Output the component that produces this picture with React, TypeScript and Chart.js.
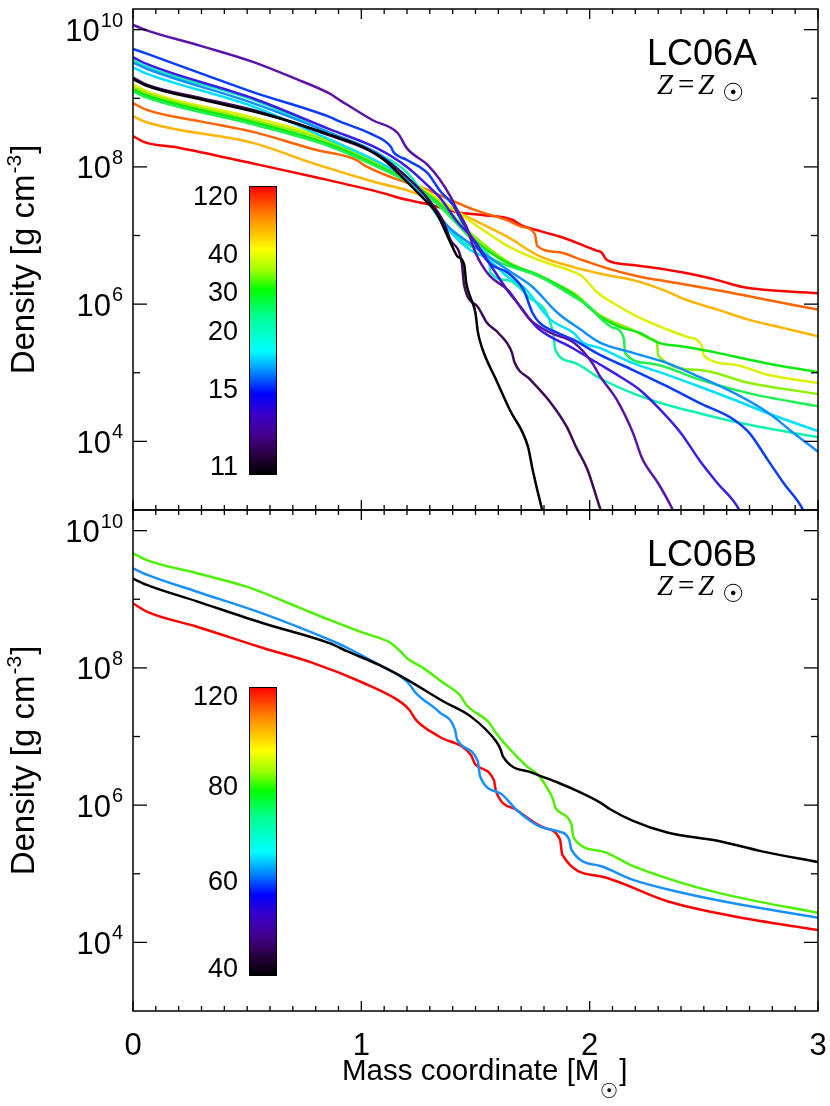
import React, { useEffect, useRef } from "react";
import { Chart, registerables } from "chart.js";

Chart.register(...registerables);

type Pt = [number, number]; // [mass coordinate, log10 density]

// ---------- axis ticks ----------
const xMajorTicks = [0, 1, 2, 3];
const yMajorExp = [4, 6, 8, 10];
const yMinorExp = [5, 7, 9];

// ---------- LC06A (top panel) ----------
const lc06aMasses = [11, 12, 13, 14, 15, 16, 17, 20, 25, 30, 35, 40, 60, 80, 120];
const lc06aColors = [
  "#000000", "#3c0c55", "#5a14a8", "#3a1ee6", "#0a3cff", "#1090ff", "#00e0ff",
  "#10f0b0", "#20f050", "#10e810", "#8cf000", "#dcf000", "#ffb400", "#ff6400", "#ff0000",
];
const a11: Pt[] = [[0,9.28],[0.06,9.18],[0.3,8.98],[0.525,8.81],[0.7,8.65],[0.86,8.47],[0.907,8.42],[1.02,8.27],[1.10,8.10],[1.17,7.88],[1.26,7.58],[1.33,7.32],[1.39,6.90],[1.42,6.70],[1.45,6.58],[1.46,6.30],[1.48,6.08],[1.50,5.87],[1.51,5.60],[1.53,5.35],[1.59,4.90],[1.65,4.46],[1.73,3.92],[1.75,3.59],[1.79,3.03],[1.81,2.8]];
const a12: Pt[] = [[0,9.30],[0.06,9.20],[0.3,9.0],[0.525,8.83],[0.86,8.46],[1.07,8.18],[1.2,7.85],[1.3,7.5],[1.36,7.2],[1.39,6.94],[1.44,6.60],[1.45,6.28],[1.51,5.96],[1.55,5.73],[1.60,5.58],[1.66,5.29],[1.67,5.16],[1.74,4.90],[1.83,4.56],[1.90,4.21],[1.94,3.92],[1.99,3.59],[2.045,3.03],[2.07,2.8]];
const a13: Pt[] = [[0,10.07],[0.06,9.99],[0.3,9.76],[0.525,9.53],[0.7,9.30],[0.86,9.07],[0.907,8.97],[1.05,8.68],[1.16,8.49],[1.2,8.27],[1.29,8.03],[1.345,7.81],[1.39,7.57],[1.42,7.37],[1.46,7.13],[1.50,6.75],[1.56,6.42],[1.64,6.21],[1.74,5.77],[1.83,5.58],[1.93,5.44],[2.01,5.15],[2.045,4.95],[2.12,4.6],[2.19,4.12],[2.23,3.75],[2.30,3.39],[2.36,3.03],[2.39,2.8]];
const a14: Pt[] = [[0,9.60],[0.06,9.50],[0.525,9.0],[0.86,8.55],[1.07,8.27],[1.2,8.0],[1.3,7.7],[1.345,7.55],[1.42,7.2],[1.49,6.95],[1.56,6.6],[1.64,6.2],[1.70,5.95],[1.74,5.77],[1.78,5.63],[1.93,5.35],[2.045,5.12],[2.13,4.95],[2.22,4.75],[2.31,4.46],[2.40,4.12],[2.48,3.73],[2.56,3.39],[2.65,3.03],[2.68,2.8]];
const a15: Pt[] = [[0,9.72],[0.06,9.65],[0.3,9.36],[0.525,9.09],[0.86,8.73],[0.907,8.66],[1.05,8.47],[1.13,8.29],[1.14,8.22],[1.2,8.10],[1.29,7.91],[1.345,7.65],[1.40,7.45],[1.43,7.27],[1.56,6.60],[1.64,6.46],[1.71,6.21],[1.75,5.87],[1.78,5.73],[1.86,5.58],[1.93,5.48],[2.045,5.26],[2.19,5.04],[2.34,4.80],[2.48,4.56],[2.63,4.32],[2.70,4.12],[2.78,3.73],[2.85,3.39],[2.93,3.03],[2.96,2.8]];
const a16: Pt[] = [[0,9.52],[0.06,9.43],[0.525,8.93],[0.86,8.5],[1.07,8.2],[1.2,7.85],[1.3,7.5],[1.345,7.25],[1.49,6.85],[1.64,6.50],[1.75,6.25],[1.86,5.87],[1.96,5.63],[2.045,5.44],[2.19,5.29],[2.34,5.14],[2.48,4.94],[2.63,4.71],[2.78,4.42],[2.89,4.13],[3.0,3.85]];
const a17: Pt[] = [[0,9.45],[0.06,9.36],[0.525,8.88],[0.86,8.4],[1.07,8.08],[1.2,7.82],[1.3,7.45],[1.345,7.23],[1.46,6.83],[1.56,6.64],[1.64,6.40],[1.71,6.25],[1.83,5.77],[1.93,5.58],[1.97,5.44],[2.045,5.36],[2.19,5.14],[2.34,4.97],[2.48,4.80],[2.63,4.61],[2.78,4.41],[3.0,4.15]];
const a20: Pt[] = [[0,9.56],[0.06,9.46],[0.525,8.98],[0.86,8.5],[1.07,8.2],[1.2,7.92],[1.345,7.27],[1.49,6.83],[1.56,6.69],[1.565,6.46],[1.64,6.35],[1.73,6.11],[1.84,5.58],[1.85,5.33],[1.93,5.15],[2.045,4.92],[2.19,4.70],[2.34,4.53],[2.48,4.41],[2.63,4.29],[2.78,4.19],[3.0,4.06]];
const a25: Pt[] = [[0,9.10],[0.06,9.01],[0.525,8.62],[0.86,8.3],[1.07,8.0],[1.2,7.78],[1.345,7.42],[1.49,6.92],[1.56,6.69],[1.78,6.40],[1.93,6.11],[2.0,5.96],[2.045,5.80],[2.10,5.66],[2.15,5.50],[2.155,5.29],[2.26,5.14],[2.48,4.90],[2.70,4.70],[3.0,4.51]];
const a30: Pt[] = [[0,9.13],[0.06,9.04],[0.525,8.65],[0.86,8.33],[1.07,8.02],[1.2,7.8],[1.345,7.45],[1.49,6.95],[1.64,6.60],[1.78,6.42],[1.93,6.14],[2.045,5.82],[2.13,5.67],[2.22,5.58],[2.30,5.44],[2.41,5.38],[2.56,5.29],[2.70,5.19],[2.85,5.09],[3.0,5.01]];
const a35: Pt[] = [[0,9.16],[0.06,9.07],[0.525,8.68],[0.86,8.37],[1.07,8.04],[1.2,7.8],[1.345,7.47],[1.49,7.0],[1.64,6.62],[1.78,6.40],[1.93,6.16],[2.045,5.84],[2.19,5.62],[2.28,5.48],[2.295,5.44],[2.30,5.25],[2.48,5.04],[2.70,4.85],[3.0,4.69]];
const a40: Pt[] = [[0,9.20],[0.06,9.10],[0.525,8.72],[0.86,8.4],[1.07,8.06],[1.2,7.82],[1.345,7.52],[1.49,7.18],[1.64,6.85],[1.78,6.64],[1.93,6.47],[1.97,6.40],[2.03,6.18],[2.10,6.02],[2.22,5.80],[2.34,5.63],[2.43,5.52],[2.49,5.40],[2.50,5.25],[2.63,5.12],[2.78,4.97],[3.0,4.85]];
const a60: Pt[] = [[0,8.74],[0.06,8.65],[0.525,8.35],[0.8,8.04],[1.07,7.77],[1.2,7.66],[1.345,7.47],[1.49,7.23],[1.64,6.98],[1.78,6.70],[1.93,6.54],[2.08,6.42],[2.19,6.35],[2.26,6.28],[2.37,6.14],[2.40,6.09],[2.56,5.92],[2.70,5.77],[2.85,5.65],[3.0,5.53]];
const a80: Pt[] = [[0,8.93],[0.06,8.83],[0.3,8.66],[0.525,8.51],[0.8,8.25],[0.98,8.10],[1.01,8.03],[1.13,7.85],[1.27,7.69],[1.39,7.52],[1.49,7.38],[1.64,7.22],[1.70,7.13],[1.76,7.02],[1.77,6.85],[1.86,6.76],[1.97,6.64],[2.10,6.50],[2.22,6.40],[2.34,6.33],[2.48,6.25],[2.63,6.16],[2.78,6.06],[3.0,5.92]];
const a120: Pt[] = [[0,8.45],[0.05,8.36],[0.2,8.28],[0.525,8.05],[0.8,7.85],[1.07,7.64],[1.2,7.52],[1.3,7.45],[1.42,7.34],[1.53,7.30],[1.66,7.23],[1.70,7.15],[1.8,7.05],[1.9,6.95],[2.03,6.78],[2.05,6.76],[2.076,6.64],[2.19,6.57],[2.41,6.46],[2.56,6.35],[2.67,6.25],[3.0,6.16]];
const lc06aProfiles = [a11, a12, a13, a14, a15, a16, a17, a20, a25, a30, a35, a40, a60, a80, a120];

// ---------- LC06B (bottom panel) ----------
const lc06bMasses = [40, 60, 80, 120];
const lc06bColors = ["#000000", "#1890ff", "#4cf000", "#ff0000"];
const b40: Pt[] = [[0,9.30],[0.06,9.21],[0.28,8.97],[0.57,8.65],[0.86,8.36],[0.94,8.24],[1.08,8.04],[1.20,7.83],[1.36,7.51],[1.48,7.29],[1.59,6.93],[1.61,6.81],[1.62,6.71],[1.75,6.47],[1.86,6.33],[1.93,6.23],[2.05,6.03],[2.09,5.94],[2.19,5.77],[2.34,5.60],[2.56,5.48],[2.75,5.33],[3.0,5.17]];
const b60: Pt[] = [[0,9.45],[0.06,9.36],[0.28,9.11],[0.57,8.79],[0.86,8.41],[0.94,8.29],[1.08,8.04],[1.20,7.80],[1.24,7.63],[1.34,7.36],[1.41,7.10],[1.42,6.95],[1.51,6.64],[1.52,6.42],[1.61,6.17],[1.68,5.93],[1.78,5.69],[1.86,5.62],[1.91,5.50],[1.92,5.35],[2.05,5.11],[2.19,4.91],[2.41,4.72],[2.63,4.57],[3.0,4.36]];
const b80: Pt[] = [[0,9.67],[0.06,9.57],[0.28,9.38],[0.50,9.18],[0.72,8.89],[0.86,8.70],[1.01,8.51],[1.13,8.36],[1.18,8.21],[1.20,8.14],[1.27,8.0],[1.36,7.78],[1.43,7.61],[1.46,7.46],[1.56,7.20],[1.59,7.05],[1.72,6.58],[1.78,6.42],[1.81,6.27],[1.84,6.08],[1.85,5.96],[1.92,5.72],[1.93,5.52],[2.05,5.33],[2.19,5.11],[2.41,4.86],[2.63,4.67],[3.0,4.43]];
const b120: Pt[] = [[0,8.94],[0.06,8.82],[0.28,8.60],[0.57,8.29],[0.79,8.07],[1.01,7.78],[1.16,7.53],[1.21,7.39],[1.24,7.24],[1.34,7.0],[1.48,6.73],[1.50,6.59],[1.58,6.37],[1.59,6.20],[1.68,5.93],[1.80,5.67],[1.87,5.50],[1.88,5.28],[2.05,4.96],[2.34,4.60],[2.63,4.38],[3.0,4.18]];
const lc06bProfiles = [b40, b60, b80, b120];

// ---------- colour bars ----------
const cmapStops: [number, string][] = [
  [0, "#000000"], [0.07, "#280040"], [0.14, "#450090"], [0.21, "#3800c8"], [0.28, "#0000ff"],
  [0.36, "#0090ff"], [0.43, "#00ffff"], [0.55, "#00ff90"], [0.64, "#00ff00"], [0.71, "#a0ff00"],
  [0.78, "#ffff00"], [0.81, "#ffe000"], [0.9, "#ff8000"], [1, "#ff0000"],
];
const cbarALabels = [11, 15, 20, 30, 40, 120];
const cbarBLabels = [40, 60, 80, 120];
const cbarBFrac = [0.03, 0.33, 0.66, 0.97];

const SANS = '"Liberation Sans", Arial, Helvetica, sans-serif';
const SERIF = '"Liberation Serif", "Times New Roman", serif';
const SYM = '"DejaVu Sans", sans-serif';

interface PanelCfg {
  title: string;
  cbarLabels: number[];
  cbarFrac: number[];
  xLabels: boolean;
}

function drawPanel(chart: any, cfg: PanelCfg) {
  const ctx: CanvasRenderingContext2D = chart.ctx;
  const a = chart.chartArea;
  const xs = chart.scales.x;
  const ys = chart.scales.y;
  ctx.save();
  ctx.strokeStyle = "#000";
  ctx.fillStyle = "#000";
  const line = (x1: number, y1: number, x2: number, y2: number) => {
    ctx.beginPath();
    ctx.moveTo(x1, y1);
    ctx.lineTo(x2, y2);
    ctx.stroke();
  };
  // frame
  ctx.lineWidth = 1.5;
  ctx.strokeRect(a.left, a.top, a.right - a.left, a.bottom - a.top);
  // x ticks (inward, top and bottom)
  ctx.lineWidth = 1.3;
  const xmin = xMajorTicks[0];
  const xmax = xMajorTicks[xMajorTicks.length - 1];
  for (let i = Math.round(xmin * 10); i <= Math.round(xmax * 10); i++) {
    const px = xs.getPixelForValue(i / 10);
    const len = i % 10 === 0 ? 10 : 5;
    line(px, a.top, px, a.top + len);
    line(px, a.bottom, px, a.bottom - len);
  }
  // y ticks (inward, left and right)
  for (const e of yMajorExp) {
    const py = ys.getPixelForValue(Math.pow(10, e));
    line(a.left, py, a.left + 14, py);
    line(a.right, py, a.right - 14, py);
  }
  for (const e of yMinorExp) {
    const py = ys.getPixelForValue(Math.pow(10, e));
    line(a.left, py, a.left + 7, py);
    line(a.right, py, a.right - 7, py);
  }
  // y tick labels 10^n
  ctx.textBaseline = "alphabetic";
  ctx.textAlign = "left";
  const labRight = a.left - 10;
  for (const e of yMajorExp) {
    const py = ys.getPixelForValue(Math.pow(10, e));
    ctx.font = `20px ${SANS}`;
    const ew = ctx.measureText(String(e)).width;
    ctx.font = `31px ${SANS}`;
    const bw = ctx.measureText("10").width;
    ctx.fillText("10", labRight - ew - bw - 1, py + 11.5);
    ctx.font = `20px ${SANS}`;
    ctx.fillText(String(e), labRight - ew, py - 3);
  }
  // y axis title
  ctx.save();
  ctx.translate(34, (a.top + a.bottom) / 2);
  ctx.rotate(-Math.PI / 2);
  const big = `33px ${SANS}`;
  const small = `21px ${SANS}`;
  ctx.font = big;
  const t1 = "Density [g cm";
  const w1 = ctx.measureText(t1).width;
  ctx.font = small;
  const w2 = ctx.measureText("-3").width;
  ctx.font = big;
  const w3 = ctx.measureText("]").width;
  const x0 = -(w1 + w2 + w3 + 2) / 2;
  ctx.fillText(t1, x0, 0);
  ctx.font = small;
  ctx.fillText("-3", x0 + w1 + 1, -13);
  ctx.font = big;
  ctx.fillText("]", x0 + w1 + w2 + 2, 0);
  ctx.restore();

  // colour bar
  const cbX = a.left + 116;
  const cbW = 28;
  const cbTop = a.top + 177;
  const cbH = 289;
  const g = ctx.createLinearGradient(0, cbTop + cbH, 0, cbTop);
  for (const [f, c] of cmapStops) g.addColorStop(f, c);
  ctx.fillStyle = g;
  ctx.fillRect(cbX, cbTop, cbW, cbH);
  ctx.lineWidth = 1;
  ctx.strokeStyle = "#000";
  ctx.strokeRect(cbX + 0.5, cbTop + 0.5, cbW - 1, cbH - 1);
  ctx.fillStyle = "#000";
  ctx.font = `27px ${SANS}`;
  ctx.textAlign = "right";
  cfg.cbarLabels.forEach((lab, i) => {
    const y = cbTop + cbH * (1 - cfg.cbarFrac[i]);
    ctx.fillText(String(lab), cbX - 11, y + 9.5);
  });

  // annotation
  const cx = a.right - 116;
  ctx.textAlign = "center";
  ctx.font = `36px ${SANS}`;
  ctx.fillText(cfg.title, cx, a.top + 56);
  ctx.textAlign = "left";
  const zb = a.top + 85;
  ctx.font = `italic 29px ${SERIF}`;
  ctx.fillText("Z", cx - 45, zb);
  ctx.font = `29px ${SERIF}`;
  ctx.fillText("=", cx - 24, zb);
  ctx.font = `italic 29px ${SERIF}`;
  ctx.fillText("Z", cx - 4, zb);
  ctx.font = `25px ${SYM}`;
  ctx.fillText("\u2609", cx + 20, zb + 7);

  // x labels and title
  if (cfg.xLabels) {
    ctx.textAlign = "center";
    ctx.font = `31px ${SANS}`;
    for (const v of xMajorTicks) {
      ctx.fillText(String(v), xs.getPixelForValue(v), a.bottom + 44);
    }
    ctx.textAlign = "left";
    const tb = a.bottom + 69;
    const tFont = `29.5px ${SANS}`;
    ctx.font = tFont;
    const s1 = "Mass coordinate [M";
    const sw1 = ctx.measureText(s1).width;
    ctx.font = `21px ${SYM}`;
    const sw2 = ctx.measureText("\u2609").width;
    const sx = 342;
    ctx.font = tFont;
    ctx.fillText(s1, sx, tb);
    ctx.font = `21px ${SYM}`;
    ctx.fillText("\u2609", sx + sw1 + 0, tb + 18);
    ctx.font = tFont;
    ctx.fillText("]", sx + sw1 + sw2 + 1, tb);
  }
  ctx.restore();
}

function makeDatasets(profiles: Pt[][], masses: number[], colors: string[]) {
  return profiles.map((p, i) => ({
    label: `${masses[i]} M\u2609`,
    data: p.map(([x, l]) => ({ x, y: Math.pow(10, l) })),
    borderColor: colors[i],
    backgroundColor: colors[i],
    borderWidth: 2.5,
    pointRadius: 0,
    cubicInterpolationMode: "monotone",
    fill: false,
    clip: 0,
  }));
}

function makeChart(
  canvas: HTMLCanvasElement,
  datasets: any[],
  padding: { left: number; right: number; top: number; bottom: number },
  cfg: PanelCfg
) {
  return new Chart(canvas, {
    type: "line",
    data: { datasets },
    options: {
      responsive: false,
      maintainAspectRatio: false,
      animation: false,
      devicePixelRatio: 1,
      layout: { padding },
      plugins: { legend: { display: false }, tooltip: { enabled: false } },
      scales: {
        x: { type: "linear", min: 0, max: 3, display: false },
        y: { type: "logarithmic", min: 1e3, max: 2e10, display: false },
      },
    },
    plugins: [
      {
        id: "panel-" + cfg.title,
        afterDraw(chart: any) {
          drawPanel(chart, cfg);
        },
      },
    ],
  } as any);
}

export default function App() {
  const topRef = useRef<HTMLCanvasElement>(null);
  const botRef = useRef<HTMLCanvasElement>(null);

  useEffect(() => {
    const lc06aFrac = cbarALabels.map(
      (m) => (lc06aMasses.indexOf(m) + 0.5) / lc06aMasses.length
    );
    const c1 = makeChart(
      topRef.current!,
      makeDatasets(lc06aProfiles, lc06aMasses, lc06aColors),
      { left: 133, right: 12, top: 9, bottom: 10 },
      { title: "LC06A", cbarLabels: cbarALabels, cbarFrac: lc06aFrac, xLabels: false }
    );
    const c2 = makeChart(
      botRef.current!,
      makeDatasets(lc06bProfiles, lc06bMasses, lc06bColors),
      { left: 133, right: 12, top: 10, bottom: 95 },
      { title: "LC06B", cbarLabels: cbarBLabels, cbarFrac: cbarBFrac, xLabels: true }
    );
    return () => {
      c1.destroy();
      c2.destroy();
    };
  }, []);

  return (
    <div style={{ position: "absolute", left: 0, top: 0, width: 830, height: 1106, background: "#fff" }}>
      <canvas ref={topRef} width={830} height={520} style={{ position: "absolute", left: 0, top: 0 }} />
      <canvas ref={botRef} width={830} height={606} style={{ position: "absolute", left: 0, top: 500 }} />
    </div>
  );
}
